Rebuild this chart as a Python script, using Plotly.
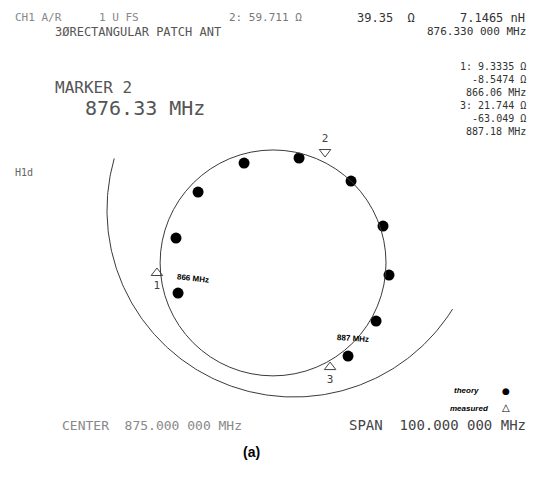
import numpy as np
import plotly.graph_objects as go

# page body has an 8 px margin: the figure is drawn 8 px in from the window corner
OFF = 8
W, H = 535 - OFF, 491 - OFF
# Smith chart frame in window pixels (centre and radius of |Gamma| = 1)
CX, CY, R = 294.0 - OFF, 210.0 - OFF, 187.0

# ---- data (reflection-coefficient plane, Gamma real / imag) ----
theory_re = [-0.620, -0.631, -0.513, -0.267, 0.027, 0.305, 0.476, 0.508, 0.439, 0.289]
theory_im = [-0.444, -0.150, 0.096, 0.251, 0.278, 0.155, -0.086, -0.348, -0.594, -0.781]

measured_center = (-0.112, -0.283)
measured_radius = 0.604

marker_ids = ["1", "2", "3"]
marker_re = [-0.733, 0.166, 0.193]
marker_im = [-0.337, 0.310, -0.840]
marker_symbols = ["triangle-up-open", "triangle-down-open", "triangle-up-open"]
marker_textpos = ["bottom center", "top center", "bottom center"]

rim_start_deg, rim_end_deg = 164.0, 328.0

fig = go.Figure()

# partial outer rim of the Smith chart (|Gamma| = 1)
ang = np.radians(np.linspace(rim_start_deg, rim_end_deg, 200))
fig.add_trace(go.Scatter(x=np.cos(ang), y=np.sin(ang), mode="lines",
                         line=dict(color="#3a3a3a", width=1), hoverinfo="skip",
                         showlegend=False))

# measured locus
cx, cy = measured_center
fig.add_shape(type="circle", xref="x", yref="y",
              x0=cx - measured_radius, x1=cx + measured_radius,
              y0=cy - measured_radius, y1=cy + measured_radius,
              line=dict(color="#3a3a3a", width=1))

# theory points
fig.add_trace(go.Scatter(x=theory_re, y=theory_im, mode="markers",
                         marker=dict(color="black", size=11),
                         showlegend=False, name="theory"))

# measured markers
for mid, mx, my, sym, tp in zip(marker_ids, marker_re, marker_im, marker_symbols, marker_textpos):
    fig.add_trace(go.Scatter(x=[mx], y=[my], mode="markers+text", text=[mid],
                             textposition=tp,
                             textfont=dict(family="DejaVu Sans Mono", size=11, color="#444"),
                             marker=dict(symbol=sym, size=10, color="#444",
                                         line=dict(width=1, color="#444")),
                             showlegend=False))


def px(x):
    return (x - OFF) / W


def py(y):
    return 1 - (y - OFF) / H


mono = "DejaVu Sans Mono"
texts = [
    # (text, x, y, size, anchor, yanchor, color)  -- positions in window pixels
    ("CH1 A/R", 13, 9, 11, "left", "top", "#888"),
    ("1 U FS", 97, 9, 11, "left", "top", "#888"),
    ("2: 59.711 Ω", 227, 9, 11, "left", "top", "#777"),
    ("39.35  Ω", 355, 9, 12, "left", "top", "#333"),
    ("7.1465 nH", 527, 9, 12, "right", "top", "#333"),
    ("3ØRECTANGULAR PATCH ANT", 53, 32, 12, "left", "middle", "#555"),
    ("876.330 000 MHz", 528, 32, 11, "right", "middle", "#333"),
    ("MARKER 2", 53, 88, 16, "left", "middle", "#555"),
    ("876.33 MHz", 83, 108, 20, "left", "middle", "#555"),
    ("1: 9.3335 Ω<br>-8.5474 Ω<br>866.06 MHz", 528, 79, 10, "right", "middle", "#333"),
    ("3: 21.744 Ω<br>-63.049 Ω<br>887.18 MHz", 528, 118, 10, "right", "middle", "#333"),
    ("H1d", 13, 172, 10, "left", "middle", "#666"),
    ("CENTER  875.000 000 MHz", 60, 425, 13, "left", "middle", "#888"),
    ("SPAN  100.000 000 MHz", 528, 425, 14, "right", "middle", "#444"),
]
for t, x, y, s, anc, yanc, col in texts:
    fig.add_annotation(text=t, x=px(x), y=py(y), xref="paper", yref="paper",
                       xanchor=anc, yanchor=yanc, align=anc, showarrow=False,
                       font=dict(family=mono, size=s, color=col))

bold = "Liberation Sans"
fig.add_annotation(text="<b>866 MHz</b>", x=px(193), y=py(278), xref="paper", yref="paper",
                   showarrow=False, textangle=6, font=dict(family=bold, size=8, color="black"))
fig.add_annotation(text="<b>887 MHz</b>", x=px(371), y=py(346), xref="paper", yref="paper",
                   showarrow=False, textangle=4, font=dict(family=bold, size=8, color="black"))
fig.add_annotation(text="<b><i>theory</i></b>", x=px(481), y=py(397), xref="paper", yref="paper",
                   xanchor="right", showarrow=False, font=dict(family=bold, size=8, color="black"))
fig.add_annotation(text="<b><i>measured</i></b>", x=px(491), y=py(415), xref="paper", yref="paper",
                   xanchor="right", showarrow=False, font=dict(family=bold, size=8, color="black"))
fig.add_annotation(text="●", x=px(512), y=py(398), xref="paper", yref="paper",
                   showarrow=False, font=dict(family="DejaVu Sans", size=9, color="black"))
fig.add_annotation(text="△", x=px(512), y=py(415), xref="paper", yref="paper",
                   showarrow=False, font=dict(family="DejaVu Sans", size=10, color="black"))
fig.add_annotation(text="<b>(a)</b>", x=px(251), y=py(462), xref="paper", yref="paper",
                   showarrow=False, font=dict(family="Liberation Sans", size=14, color="black"))

fig.update_xaxes(range=[-CX / R, (W - CX) / R], visible=False, fixedrange=True)
fig.update_yaxes(range=[-(H - CY) / R, CY / R], visible=False, fixedrange=True)
fig.update_layout(width=W, height=H, margin=dict(l=0, r=0, t=0, b=0),
                  paper_bgcolor="white", plot_bgcolor="white", showlegend=False)

fig.write_html("out.html")
